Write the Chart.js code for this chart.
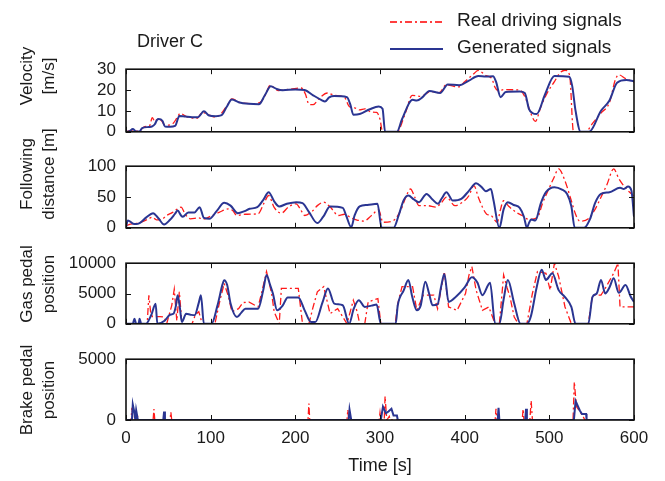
<!DOCTYPE html>
<html>
<head>
<meta charset="utf-8">
<script src="https://cdn.jsdelivr.net/npm/chart.js@4.4.1/dist/chart.umd.min.js"></script>
<style>
  body { margin: 0; background: #fff; }
  #fig { position: relative; width: 665px; height: 481px; font-family: 'Liberation Sans', Arial, sans-serif; color: #1a1a1a; }
  #fig canvas { position: absolute; left: 0; }
  .txt { position: absolute; white-space: nowrap; }
  .ytitle { position: absolute; white-space: nowrap; text-align: center; font-size: 17px; line-height: 22px;
            transform: translate(-50%, -50%) rotate(-90deg); }
</style>
</head>
<body>
<div id="fig">
  <canvas id="cVel" width="665" height="103" style="top:49px"></canvas>
  <canvas id="cFol" width="665" height="102" style="top:146px"></canvas>
  <canvas id="cGas" width="665" height="101" style="top:243px"></canvas>
  <canvas id="cBrk" width="665" height="121" style="top:339px"></canvas>

  <div class="txt" style="left:137px; top:31px; font-size:18px;">Driver C</div>

  <svg style="position:absolute; left:385px; top:10px;" width="65" height="50">
    <line x1="5" y1="12" x2="58" y2="12" stroke="#ff0000" stroke-width="1.3" stroke-dasharray="7,3,2,3"/>
    <line x1="5" y1="39" x2="58" y2="39" stroke="#2a3592" stroke-width="2"/>
  </svg>
  <div class="txt" style="left:457px; top:9px; font-size:19px;">Real driving signals</div>
  <div class="txt" style="left:457px; top:36px; font-size:19px;">Generated signals</div>

  <div class="ytitle" style="left:38px; top:76px;">Velocity<br>[m/s]</div>
  <div class="ytitle" style="left:38px; top:174px;">Following<br>distance [m]</div>
  <div class="ytitle" style="left:38px; top:284px;">Gas pedal<br>position</div>
  <div class="ytitle" style="left:38px; top:390px;">Brake pedal<br>position</div>

  <div class="txt" style="left:380px; top:455px; font-size:18px; transform:translateX(-50%);">Time [s]</div>
</div>

<script>
// time axis ticks [s]
const xTicks = [0, 100, 200, 300, 400, 500, 600];

// velocity [m/s] as [time, value]
const velGen = [[0,0],[4,0.3],[8,1.3],[12,0.2],[16,0.2],[19,1.8],[27,2.3],[31,2.6],[34,3.6],[36.5,5.6],[38.5,6.1],[43,5.3],[46,2.5],[52,2.4],[58,2.8],[63,7.6],[70,7.3],[78,7.0],[85,7.0],[92,9.8],[98,7.8],[106,7.5],[113,8.0],[119,12],[125,15.5],[133,14.2],[145,13.4],[157,13.2],[164,17.5],[171,21.8],[178,20.5],[185,19.9],[200,20.3],[211,20.0],[221,17.5],[231,15.2],[235,14.5],[240,16.5],[246,17.1],[261,16.6],[265,13],[268.5,8.2],[276,8.5],[288,10.8],[298.5,12.1],[303,11],[306,0],[320,0],[326,6],[338.5,15.3],[343.5,15.0],[350,16.5],[358.5,19.6],[371,18.6],[380,22.7],[393.5,22.3],[405,24.5],[416,26.7],[425,26.5],[433.5,26.6],[437,24],[442.5,16.6],[448.5,19.1],[465,19.3],[471,18.6],[476,10.9],[480,9],[485,8.5],[495,18],[506,26.7],[523.5,26.4],[527,22],[531,10],[537,0],[547,0],[561,10.1],[571,15],[580,23.5],[591,24.8],[600,24.2]];
const velReal = [[0,0],[5,0.5],[10,0.3],[16,0.5],[22,2.5],[28,3],[31,6.8],[34,5],[37,6],[42,5.3],[46,3.2],[55,3.8],[60,6.5],[64,8.8],[72,7.2],[84,6.5],[90,9.3],[96,8.5],[105,7],[113,9],[120,13],[125,15.8],[135,14],[150,13.5],[158,14],[165,18],[170,22.3],[180,19.8],[195,20.5],[207,21],[212,18],[216,13.2],[221,13],[228,16],[238,18.6],[246,17.5],[258,16.5],[264,12],[270,11.5],[276,10.5],[282,11],[290,9.5],[296,9.3],[300,6],[303,0],[320,0],[330,9],[338,17.5],[348,17],[360,19.3],[370,18.8],[378,22.5],[393,21.5],[400,24],[410,27.5],[416,29.4],[425,27],[432,25.5],[436,21.2],[440,19.5],[446,20.2],[465,20],[472,16],[478,9],[483.5,5],[490,12],[498,19],[506,24],[512,28],[518.5,29.5],[524,27],[528.5,0],[543,0],[551,4],[561,9],[571,14],[578,25],[582,27.3],[590,25.5],[600,23.8]];

// following distance [m]
const folGen = [[0,0],[2,12],[5,10],[8.5,6.5],[12,6],[16,7.6],[24,17],[32,23.8],[38,16],[45,5.4],[52,13],[58,23],[61,28],[65,20],[67,18],[73.5,25],[81,25],[87,33.5],[92,16],[98.5,14.6],[107,27],[116,40.5],[123.5,36],[132,23.8],[140,27],[146,30.8],[155,33.5],[162,45],[168.5,57.8],[175,43],[181,34.6],[190,39],[201,41.6],[208.5,40],[216,26],[226,7.6],[233,18],[241,34.6],[256,32.4],[260,20],[266,1],[270,20],[276,34.6],[285,37],[297,39],[302,0],[316,0],[322,20],[328,45],[333.5,52.4],[340,46],[346,41.6],[355,55],[362,46],[368.5,39],[373,48],[378.5,57.8],[386,44.3],[396,47],[405,60],[413.5,72.4],[420,66],[425,59.5],[431,63],[434,45],[441,0],[446,30],[451,41.6],[458,37],[465,32.4],[470,18],[473.5,0],[476,8],[478.5,13.5],[483.5,12],[490,40],[496,57.8],[506,66],[515,62],[521,55],[526,35],[530,0],[541,0],[548,14],[554,40],[561,55],[571,57.8],[583.5,65],[588,63],[593,67],[597,60],[600,18]];
const folReal = [[0,3],[5,6],[12,7],[21,10.8],[26,14],[31,17],[36,13],[41,13],[48,20],[55,25],[60,30],[65,33.5],[70,22],[76,14.6],[86,16],[91,14],[100,19],[110,25],[121,30.8],[126,28],[131,20],[141,22],[156,22.7],[163,40],[168.5,52.4],[175,33],[183.5,23.8],[192,34],[201,39],[206,30],[211,20],[220,27],[226,36],[233.5,41.6],[241,34],[251,20],[258,22],[266,16],[272,13],[281,10.8],[290,20],[298.5,29],[303.5,9],[316,12],[325,30],[330,48],[336,63],[341,50],[346,36],[356,36],[366,33.5],[372,40],[378.5,49.7],[388.5,36],[398,42],[405,52],[411,68.6],[416,50],[421,33.5],[426,22],[431,20],[438.5,9],[442,28],[446,44],[452,35],[461,25],[468,20],[476,13.5],[486,17],[492,40],[498.5,60.5],[505,80],[511,95.7],[518,78],[526,44],[531,22],[536,10.8],[546,14.6],[554,30],[561,49.7],[568,70],[576,95.7],[582,80],[591,63],[597,55],[600,50]];

// gas pedal position
const gasGen = [[0,0],[8,0],[10,850],[12,0],[15,0],[16,850],[18,0],[23.5,0],[30,1500],[35,3300],[37,0],[46,550],[52,1500],[56,1650],[59,3000],[61,4700],[63.5,2800],[66,300],[71,1650],[76,1500],[81,1400],[86,3500],[88.5,4700],[92,0],[101,0],[108,3000],[114,6500],[116,7200],[119.5,6400],[123.5,3340],[131,1110],[136,1800],[141,2500],[150,2500],[156,2500],[162,5500],[166,8060],[170,6500],[173.5,5000],[178.5,2220],[185,3000],[191,4340],[203.5,4340],[211,2220],[218.5,280],[223.5,280],[232,3500],[238.5,5840],[246,3340],[256,3060],[263.5,0],[269,2500],[275,3890],[282,2780],[290,3000],[296,3170],[301,0],[318.5,0],[321,3060],[328,5500],[333.5,7230],[338,4500],[343.5,2220],[348,3000],[353.5,6950],[358,5000],[362,3060],[368,3200],[372,6000],[376,8230],[381,3610],[390,4500],[400,6000],[408.5,7670],[415,6800],[421,4720],[430,6780],[436,0],[441,0],[446,4000],[451,7230],[458.5,3340],[466,0],[473.5,0],[478.5,1390],[485,6000],[491,8900],[496,7230],[503.5,8340],[511,5560],[518,4500],[526,2780],[531,0],[546,0],[551,4450],[556,5000],[561,7230],[566,5000],[571,6000],[576,7500],[582,5120],[590,6400],[596,4500],[600,3610]];
const gasReal = [[0,0],[25,0],[27,4700],[29,2000],[31,1200],[40,1200],[45,1100],[48,0],[51,1500],[54,3000],[57,5700],[60,500],[63,5300],[66,0],[78,0],[82,1500],[86,2000],[90,0],[105,0],[111,3890],[116,6670],[121,4500],[125,2000],[133,2500],[138,3500],[145,3600],[156,2780],[160,5000],[166,8620],[172,5000],[175,2000],[181,0],[183.5,5840],[203.5,5840],[208.5,0],[216,0],[221,2780],[226,5280],[233.5,6120],[241,1670],[250,2500],[261,0],[268.5,3890],[273,2000],[276,0],[282,0],[286,3610],[297.5,4170],[301,0],[318,0],[321,3340],[326,6120],[338.5,6120],[343.5,2220],[351,4720],[363.5,4720],[368,2500],[376,8620],[381,2780],[391,2220],[401,5000],[405,8000],[408.5,9450],[413.5,5560],[421,2220],[428.5,2780],[436,0],[441,0],[446,8060],[450,6000],[453.5,4450],[458.5,1110],[463.5,0],[473.5,0],[480,5000],[486,8620],[496,8340],[501,5560],[506,10000],[511,7800],[518.5,2780],[526,0],[546,0],[551,4720],[561,4720],[566,5840],[576,8340],[581,10000],[583.5,2780],[600,2780]];

// brake pedal position
const brkGen = [[0,0],[7,0],[8,1280],[10,600],[11,0],[12,800],[14,0],[44,0],[45,700],[46,0],[263,0],[264,850],[266,0],[301,0],[303.5,1100],[307,560],[310,700],[313.5,920],[316,360],[320,360],[321,0],[439,0],[440,1000],[441,0],[471.5,0],[472.5,920],[473.5,0],[529,0],[531,1560],[536,780],[538.5,500],[543.5,500],[544,0],[600,0]];
const brkReal = [[0,0],[6,0],[7,1000],[8,0],[12,0],[13,500],[15,0],[32,0],[33,900],[34,0],[52,0],[53,650],[54,0],[215,0],[216,1350],[217,0],[261,0],[262,850],[263,0],[299,0],[300,600],[301,0],[305,0],[306,1950],[308,0],[311,300],[312,0],[436,0],[437,920],[438,0],[468,0],[469,900],[470,0],[477,0],[478.5,1600],[480,0],[528,0],[529.5,3140],[532,1100],[535,800],[539,400],[542,0],[600,0]];

// y-axis settings per panel: min, max, step
const velTicks = [0, 30, 10];
const folTicks = [0, 100, 50];
const gasTicks = [0, 10000, 5000];
const brkTicks = [0, 5000, 5000];

const FONT = "'Liberation Sans', Arial, sans-serif";
const toXY = arr => arr.map(p => ({ x: p[0], y: p[1] }));

// box around the plot area with inward tick marks, matlab style
const boxPlugin = {
    id: 'box',
    afterDatasetsDraw(chart) {
        const { ctx, chartArea: a, scales } = chart;
        const len = 5;
        ctx.save();
        ctx.strokeStyle = '#111';
        ctx.lineWidth = 1;
        ctx.beginPath();
        xTicks.forEach(v => {
            const px = Math.round(scales.x.getPixelForValue(v)) + 0.5;
            ctx.moveTo(px, a.top); ctx.lineTo(px, a.top + len);
            ctx.moveTo(px, a.bottom); ctx.lineTo(px, a.bottom - len);
        });
        scales.y.ticks.forEach(t => {
            const py = Math.round(scales.y.getPixelForValue(t.value)) + 0.5;
            ctx.moveTo(a.left, py); ctx.lineTo(a.left + len, py);
            ctx.moveTo(a.right, py); ctx.lineTo(a.right - len, py);
        });
        ctx.stroke();
        ctx.lineWidth = 1.6;
        ctx.strokeRect(a.left, a.top, a.right - a.left, a.bottom - a.top);
        ctx.restore();
    }
};

function makePanel(id, gen, real, yt, showX, smoothGen, smoothReal) {
    const ctx = document.getElementById(id).getContext('2d');
    return new Chart(ctx, {
        type: 'line',
        data: {
            datasets: [{
                label: 'Generated signals',
                data: toXY(gen),
                borderColor: '#2a3592',
                borderWidth: 2,
                pointRadius: 0,
                cubicInterpolationMode: smoothGen ? 'monotone' : 'default',
                tension: 0,
            }, {
                label: 'Real driving signals',
                data: toXY(real),
                borderColor: '#ff1a1a',
                borderWidth: 1.3,
                borderDash: [7, 3, 2, 3],
                pointRadius: 0,
                cubicInterpolationMode: smoothReal ? 'monotone' : 'default',
                tension: 0,
            }]
        },
        options: {
            responsive: false,
            animation: false,
            devicePixelRatio: 1,
            layout: { padding: { left: 0, right: 31, top: 0, bottom: 0 } },
            plugins: { legend: { display: false }, tooltip: { enabled: false } },
            scales: {
                x: {
                    type: 'linear',
                    min: 0,
                    max: 600,
                    display: showX,
                    grid: { display: false, drawTicks: false },
                    border: { display: false },
                    ticks: {
                        stepSize: 100,
                        padding: 8,
                        color: '#1a1a1a',
                        font: { family: FONT, size: 17 },
                    },
                    afterFit: scale => { scale.height = showX ? 40 : 0; },
                },
                y: {
                    min: yt[0],
                    max: yt[1],
                    grid: { display: false, drawTicks: false },
                    border: { display: false },
                    ticks: {
                        stepSize: yt[2],
                        autoSkip: false,
                        padding: 10,
                        color: '#1a1a1a',
                        font: { family: FONT, size: 17 },
                        callback: v => String(v),
                    },
                    afterFit: scale => { scale.width = 126; },
                },
            },
        },
        plugins: [boxPlugin],
    });
}

makePanel('cVel', velGen, velReal, velTicks, false, true, true);
makePanel('cFol', folGen, folReal, folTicks, false, true, true);
makePanel('cGas', gasGen, gasReal, gasTicks, false, true, false);
makePanel('cBrk', brkGen, brkReal, brkTicks, true, false, false);
</script>
</body>
</html>
